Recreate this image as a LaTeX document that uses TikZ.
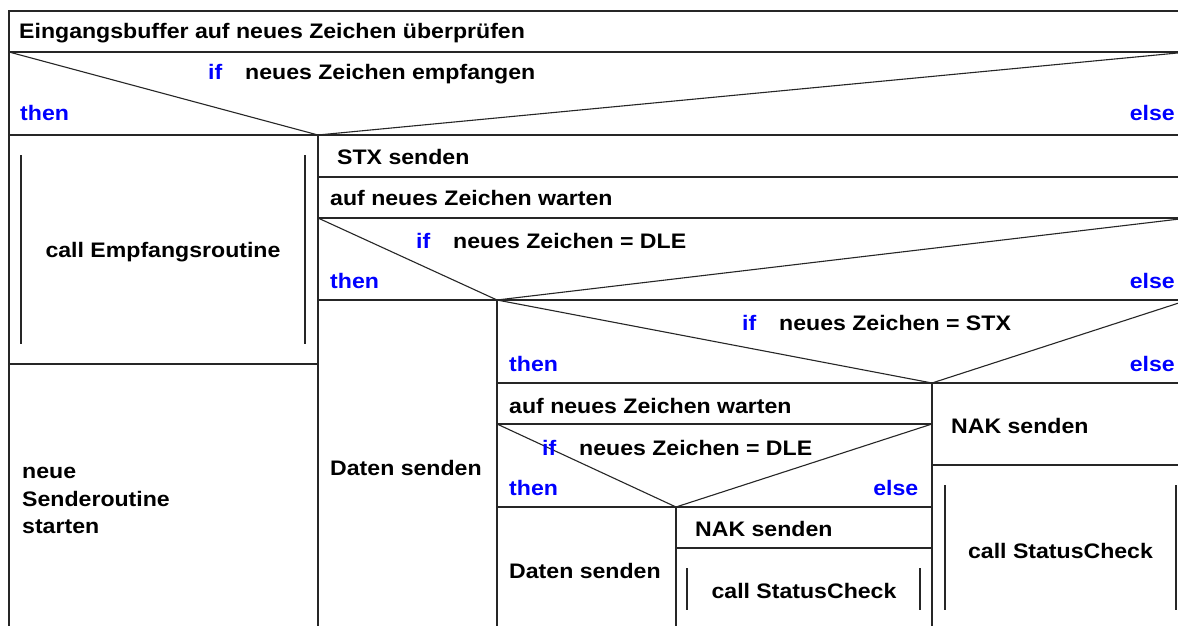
\documentclass[tikz,border=0pt]{standalone}
\usepackage{fontspec}
\setmainfont{Liberation Sans}[FakeStretch=1.1]
\begin{document}
\begin{tikzpicture}[x=1pt,y=-1pt,
  frame/.style={line width=1.5pt, draw=black!85},
  diag/.style={line width=1.1pt, draw=black!85},
  lbl/.style={anchor=base west, inner sep=0pt, text=black,
              font=\fontsize{21pt}{27pt}\selectfont\bfseries},
  kw/.style={lbl, text=blue},
  kwr/.style={kw, anchor=base east},
  ctr/.style={lbl, anchor=base}]
\useasboundingbox[fill=white] (0,0) rectangle (1178,626);

% outer frame (continues past the right and bottom page edges)
\def\R{1188}
\def\B{632}
\draw[frame] (9,\B) -- (9,11) -- (\R,11);
\draw[frame] (9,52) -- (\R,52);
\draw[frame] (9,135) -- (\R,135);

% first decision: left / right branch
\draw[frame] (318,135) -- (318,\B);
\draw[frame] (9,364) -- (318,364);
\draw[frame] (318,177) -- (\R,177);
\draw[frame] (318,218) -- (\R,218);
\draw[frame] (318,300) -- (\R,300);

% nested decisions
\draw[frame] (497,300) -- (497,\B);
\draw[frame] (497,383) -- (\R,383);
\draw[frame] (932,383) -- (932,\B);
\draw[frame] (497,424) -- (932,424);
\draw[frame] (497,507) -- (932,507);
\draw[frame] (676,507) -- (676,\B);
\draw[frame] (676,548) -- (932,548);
\draw[frame] (932,465) -- (\R,465);

% sub-routine call bars
\draw[frame] (21,155) -- (21,344);
\draw[frame] (305,155) -- (305,344);
\draw[frame] (687,568) -- (687,610);
\draw[frame] (920,568) -- (920,610);
\draw[frame] (945,485) -- (945,610);
\draw[frame] (1176,485) -- (1176,610);

% decision triangles
\draw[diag] (9,52) -- (318,135) -- (\R,52);
\draw[diag] (318,218) -- (497,300) -- (\R,218);
\draw[diag] (497,300) -- (932,383) -- (\R,300);
\draw[diag] (497,424) -- (676,507) -- (932,424);

% texts
\node[lbl] (t0) at (19,39) {Eingangsbuffer auf neues Zeichen überprüfen};
\node[kw]  (if1) at (208,80) {if};
\node[lbl] (c1) at (245,80) {neues Zeichen empfangen};
\node[kw]  (th1) at (20,121) {then};
\node[kwr] (el1) at (1175,121) {else};

\node[ctr] (call1) at (163,257) {call Empfangsroutine};
\node[lbl] (ns1) at (22,478) {neue};
\node[lbl] (ns2) at (22,506) {Senderoutine};
\node[lbl] (ns3) at (22,533) {starten};

\node[lbl] (stx) at (337,164.5) {STX senden};
\node[lbl] (w1) at (330,205) {auf neues Zeichen warten};
\node[kw]  (if2) at (416,248) {if};
\node[lbl] (c2) at (453,248) {neues Zeichen = DLE};
\node[kw]  (th2) at (330,288) {then};
\node[kwr] (el2) at (1175,288) {else};
\node[lbl] (ds1) at (330,475) {Daten senden};

\node[kw]  (if3) at (742,330) {if};
\node[lbl] (c3) at (779,330) {neues Zeichen = STX};
\node[kw]  (th3) at (509,371.5) {then};
\node[kwr] (el3) at (1175,371.5) {else};
\node[lbl] (w2) at (509,413) {auf neues Zeichen warten};
\node[lbl] (nak1) at (951,433) {NAK senden};

\node[kw]  (if4) at (542,455) {if};
\node[lbl] (c4) at (579,455) {neues Zeichen = DLE};
\node[kw]  (th4) at (509,495) {then};
\node[kwr] (el4) at (918.5,495) {else};
\node[lbl] (ds2) at (509,578) {Daten senden};
\node[lbl] (nak2) at (695,536.5) {NAK senden};
\node[ctr] (sc1) at (804,598) {call StatusCheck};
\node[ctr] (sc2) at (1060.5,558) {call StatusCheck};
\end{tikzpicture}
\end{document}
